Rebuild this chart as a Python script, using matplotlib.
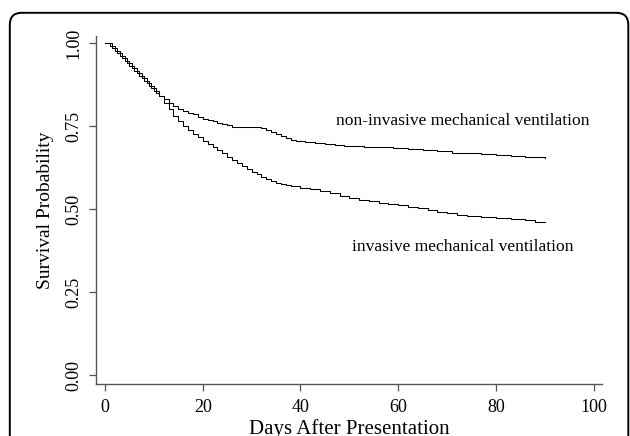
import matplotlib
matplotlib.use("Agg")
import matplotlib.pyplot as plt
from matplotlib.patches import FancyBboxPatch

plt.rcParams['font.family'] = ['Liberation Serif', 'DejaVu Serif']

# Kaplan-Meier estimates (day, survival)
niv_days = [0, 1, 2, 3, 4, 5, 6, 7, 8, 9, 10, 11, 12, 13, 14, 15, 16, 17, 18, 19,
            20, 21, 22, 23, 24, 25, 26, 28, 30, 32, 33, 34, 35, 36, 37, 38, 39, 41,
            43, 45, 47, 49, 51, 53, 56, 59, 62, 65, 68, 71, 74, 77, 80, 83, 86, 88, 90]
niv_surv = [1.0, 0.99, 0.975, 0.96, 0.945, 0.93, 0.915, 0.90, 0.885, 0.87, 0.855,
            0.84, 0.83, 0.82, 0.81, 0.80, 0.795, 0.79, 0.785, 0.778, 0.772, 0.768,
            0.764, 0.76, 0.756, 0.752, 0.748, 0.747, 0.746, 0.744, 0.738, 0.732,
            0.726, 0.72, 0.714, 0.709, 0.706, 0.703, 0.700, 0.697, 0.694, 0.691,
            0.689, 0.688, 0.686, 0.684, 0.680, 0.677, 0.674, 0.670, 0.668, 0.665,
            0.662, 0.660, 0.658, 0.656, 0.655]

inv_days = [0, 1.5, 2.5, 3.5, 4.5, 5.5, 6.5, 7.5, 8.5, 9.5, 10.5, 11, 12, 13, 14, 15,
            16, 17, 18, 19, 20, 21, 22, 23, 24, 25, 26, 27, 28, 29, 30, 31, 32, 33,
            34, 35, 36, 37, 38, 40, 42, 44, 46, 48, 50, 52, 54, 56, 58, 60, 62, 64,
            66, 68, 70, 72, 74, 77, 80, 83, 86, 88, 90]
inv_surv = [1.0, 0.985, 0.97, 0.955, 0.94, 0.925, 0.91, 0.895, 0.88, 0.865, 0.85,
            0.84, 0.82, 0.80, 0.78, 0.765, 0.75, 0.738, 0.726, 0.716, 0.706, 0.696,
            0.686, 0.677, 0.668, 0.658, 0.649, 0.640, 0.630, 0.620, 0.612, 0.604,
            0.596, 0.589, 0.583, 0.578, 0.574, 0.571, 0.568, 0.564, 0.559, 0.553,
            0.547, 0.540, 0.533, 0.527, 0.523, 0.519, 0.515, 0.511, 0.506, 0.502,
            0.497, 0.492, 0.487, 0.483, 0.480, 0.476, 0.473, 0.470, 0.466, 0.462,
            0.460]

x_ticks = [0, 20, 40, 60, 80, 100]
y_ticks = [0.0, 0.25, 0.5, 0.75, 1.0]
y_ticklabels = ["0.00", "0.25", "0.50", "0.75", "1.00"]

fig = plt.figure(figsize=(6.3, 4.36), dpi=100)

# rounded frame around the whole panel (pixel coordinates)
bg = fig.add_axes([0, 0, 1, 1], zorder=0)
bg.set_xlim(0, 630)
bg.set_ylim(436, 0)
bg.axis("off")
bg.add_patch(FancyBboxPatch((9.8, 12.8), 618.5, 500,
                            boxstyle="round,pad=0,rounding_size=12",
                            fc="white", ec="black", lw=1.4))

ax = fig.add_axes([0.1524, 0.1193, 0.8032, 0.7989], zorder=1)
ax.patch.set_alpha(0)

ax.plot(niv_days, niv_surv, drawstyle="steps-post", color="black", lw=0.75)
ax.plot(inv_days, inv_surv, drawstyle="steps-post", color="black", lw=0.75)

ax.set_xlim(-1.84, 101.7)
ax.set_ylim(-0.027, 1.022)

ax.set_xticks(x_ticks)
ax.set_yticks(y_ticks)
ax.set_yticklabels(y_ticklabels, rotation=90, va="center")

for s in ["top", "right"]:
    ax.spines[s].set_visible(False)
for s in ["left", "bottom"]:
    ax.spines[s].set_color("#555555")
    ax.spines[s].set_linewidth(1.0)
ax.tick_params(axis="both", direction="out", length=5, width=0.9,
               color="#555555", labelsize=13)
ax.tick_params(axis="x", pad=6)
ax.tick_params(axis="y", pad=5)

ax.set_xlabel("Days After Presentation", fontsize=15, labelpad=2)
ax.set_ylabel("Survival Probability", fontsize=14, labelpad=8)

ax.text(47.3, 0.753, "non-invasive mechanical ventilation", fontsize=12.6)
ax.text(50.6, 0.372, "invasive mechanical ventilation", fontsize=12.6)

fig.savefig("out.png", dpi=100)
